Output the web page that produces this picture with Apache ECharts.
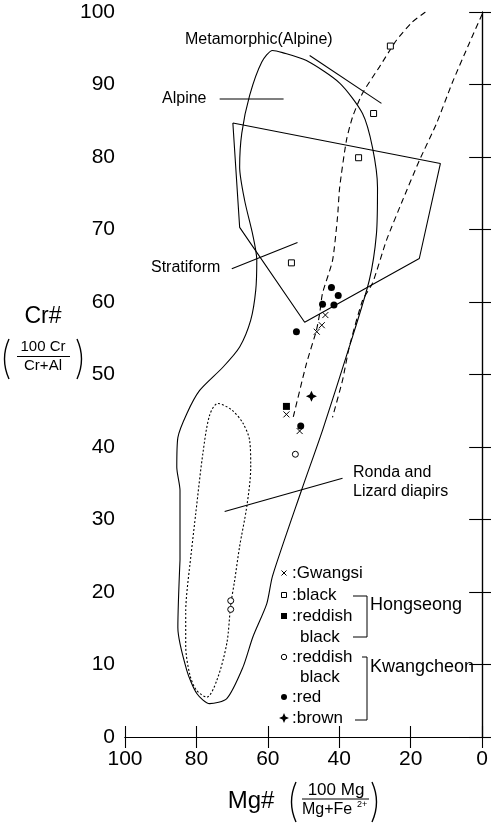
<!DOCTYPE html>
<html>
<head>
<meta charset="utf-8">
<script src="https://cdn.jsdelivr.net/npm/echarts@6/dist/echarts.min.js"></script>
<style>
  html, body { margin: 0; padding: 0; background: #fff; }
  #chart { width: 491px; height: 826px; }
</style>
</head>
<body>
<div id="chart"></div>
<script>
// 刻度
const xTicks = [0, 20, 40, 60, 80, 100];
const yTicks = [0, 10, 20, 30, 40, 50, 60, 70, 80, 90, 100];

// 样品点 [Mg#, Cr#]
const gwangsi = [[43.9, 58.2], [44.9, 56.8], [46.3, 55.9], [54.8, 44.5], [51.1, 42.2]];
const hsBlack = [[25.7, 95.3], [30.4, 86.0], [34.6, 79.9], [53.4, 65.4]];
const hsReddishBlack = [[54.8, 45.6]];
const kcReddishBlack = [[52.3, 39.0], [70.4, 18.8], [70.4, 17.6]];
const kcRed = [[42.2, 62.0], [40.3, 60.9], [44.7, 59.7], [41.5, 59.6], [52.0, 55.9], [50.8, 42.9]];
const kcBrown = [[47.8, 47.0]];

// 区域边界（闭合曲线从侧边起笔，避免顶点处出现折角）
const alpineField = [[84.6, 24.4], [85.2, 15.1], [82.7, 9.2], [79.9, 6.0], [76.3, 4.6], [71.5, 5.3],
  [67.0, 9.6], [64.2, 13.8], [60.3, 18.4], [58.7, 22.2], [50.6, 34.0], [44.7, 42.3], [37.2, 53.8],
  [31.6, 63.0], [29.6, 69.4], [29.3, 75.8], [30.7, 81.3], [33.5, 86.0], [39.9, 90.2], [49.2, 93.3],
  [55.9, 94.4], [58.7, 94.7], [61.7, 93.1], [65.1, 88.5], [67.3, 83.3], [67.9, 78.6], [66.5, 74.0],
  [64.2, 69.2], [63.1, 65.8], [63.4, 61.6], [64.8, 57.5], [67.9, 53.8], [72.6, 51.0], [79.1, 47.8],
  [82.7, 44.6], [85.2, 41.3], [85.5, 37.2], [84.6, 34.0], [84.6, 24.4]];
const rondaField = [[82.1, 22.6], [83.0, 17.4], [83.0, 12.6], [81.8, 8.5], [79.9, 6.4], [77.1, 5.5],
  [74.3, 7.8], [71.5, 12.9], [70.4, 18.2], [69.3, 21.6], [67.9, 26.3], [65.9, 31.8], [64.8, 37.2],
  [65.1, 40.9], [67.0, 43.3], [70.1, 45.1], [74.0, 46.0], [76.3, 44.4], [78.2, 39.1], [80.2, 30.8], [82.1, 22.6]];
const stratiformField = [[69.8, 84.7], [11.7, 79.1], [17.6, 66.0], [49.7, 57.2], [67.9, 70.3], [69.8, 84.7]];
const trendA = [[15.9, 100], [19.6, 98.6], [24.0, 96.1], [28.8, 92.4], [33.5, 88.8], [36.3, 85.5],
  [38.0, 82.3], [39.9, 75.8], [40.5, 71.7], [41.9, 65.7], [44.7, 61.2], [45.5, 58.4], [46.4, 56.1],
  [49.2, 51.5], [53.1, 43.7]];
const trendB = [[0, 99.7], [3.6, 95.7], [8.4, 90.2], [12.8, 84.6], [17.6, 79.5], [22.3, 74.0],
  [26.8, 68.5], [30.7, 62.6], [33.5, 60.2], [37.2, 53.8], [39.1, 49.2], [41.9, 44.1]];

// 引线
const leaderMeta = [[48.3, 94.0], [28.2, 87.4]];
const leaderAlpine = [[73.5, 88.0], [55.6, 88.0]];
const leaderStrat = [[70.1, 64.6], [51.7, 68.2]];
const leaderRonda = [[72.1, 31.1], [39.1, 35.7]];

const FONT = '"Liberation Sans", Arial, sans-serif';
const crossPath = 'path://M0,0L10,10M10,0L0,10';
const starPath = 'path://M5,0L6.6,3.4L10,5L6.6,6.6L5,10L3.4,6.6L0,5L3.4,3.4Z';

function boundary(data, type, smooth) {
  return {
    type: 'line', data: data, symbol: 'none', smooth: smooth, silent: true,
    lineStyle: { color: '#000', width: 1.1, type: type }, z: 2
  };
}
function pts(data, symbol, size, fill, stroke) {
  return {
    type: 'scatter', data: data, symbol: symbol, symbolSize: size, silent: true, z: 5,
    itemStyle: { color: fill, borderColor: '#000', borderWidth: stroke, opacity: 1 }
  };
}
function txt(x, y, s, size, align) {
  return { type: 'text', x: x, y: y, silent: true,
    style: { text: s, font: size + 'px ' + FONT, fill: '#000', textAlign: align || 'left', textVerticalAlign: 'middle' } };
}
function seg(x1, y1, x2, y2, w) {
  return { type: 'line', silent: true, shape: { x1: x1, y1: y1, x2: x2, y2: y2 },
    style: { stroke: '#000', lineWidth: w || 1 } };
}
function paren(x, y1, y2, bulge) {
  return { type: 'bezierCurve', silent: true,
    shape: { x1: x, y1: y1, x2: x, y2: y2, cpx1: x + bulge, cpy1: (y1 + y2) / 2 },
    style: { stroke: '#000', lineWidth: 1.4, fill: null } };
}
function legendSym(x, y, kind) {
  if (kind === 'cross') return { type: 'group', children: [seg(x - 2.5, y - 2.5, x + 2.5, y + 2.5), seg(x + 2.5, y - 2.5, x - 2.5, y + 2.5)] };
  if (kind === 'osq') return { type: 'rect', shape: { x: x - 2.5, y: y - 2.5, width: 5, height: 5 }, style: { fill: '#fff', stroke: '#000', lineWidth: 1 } };
  if (kind === 'fsq') return { type: 'rect', shape: { x: x - 3, y: y - 3, width: 6, height: 6 }, style: { fill: '#000' } };
  if (kind === 'oci') return { type: 'circle', shape: { cx: x, cy: y, r: 2.7 }, style: { fill: '#fff', stroke: '#000', lineWidth: 1 } };
  if (kind === 'fci') return { type: 'circle', shape: { cx: x, cy: y, r: 3 }, style: { fill: '#000' } };
  return { type: 'polygon', shape: { points: [[x, y - 5], [x + 1.5, y - 1.5], [x + 5, y], [x + 1.5, y + 1.5], [x, y + 5], [x - 1.5, y + 1.5], [x - 5, y], [x - 1.5, y - 1.5]] }, style: { fill: '#000' } };
}

const chart = echarts.init(document.getElementById('chart'), null, { renderer: 'canvas' });

const axisCommon = {
  type: 'value', min: 0, max: 100, splitLine: { show: false },
  axisLine: { show: true, lineStyle: { color: '#000', width: 1.2 } },
  axisTick: { show: true, inside: true, length: 11, lineStyle: { color: '#000', width: 1.1 } }
};

const legendRows = [
  ['cross', ':Gwangsi', 573], ['osq', ':black', 595], ['fsq', ':reddish', 616], [null, 'black', 637],
  ['oci', ':reddish', 657], [null, 'black', 677], ['fci', ':red', 697], ['star', ':brown', 718]
];
const legendGraphics = [];
legendRows.forEach(function (r) {
  if (r[0]) legendGraphics.push(legendSym(284, r[2], r[0]));
  legendGraphics.push(txt(r[0] ? 292 : 300, r[2], r[1], 17));
});

chart.setOption({
  animation: false,
  backgroundColor: '#fff',
  grid: { left: 125, right: 8, top: 12, bottom: 89 },
  xAxis: [
    Object.assign({}, axisCommon, {
      inverse: true, position: 'bottom', interval: 20,
      axisLabel: { fontSize: 21, color: '#000', fontFamily: FONT, margin: 12, showMinLabel: true, showMaxLabel: true,
        formatter: function (v) { return xTicks.indexOf(v) >= 0 ? String(v) : ''; } }
    }),
    Object.assign({}, axisCommon, { inverse: true, position: 'top', interval: 20, axisLabel: { show: false } })
  ],
  yAxis: [
    Object.assign({}, axisCommon, {
      position: 'left', interval: 10,
      axisLabel: { fontSize: 21, color: '#000', fontFamily: FONT, margin: 10, showMinLabel: true, showMaxLabel: true,
        formatter: function (v) { return yTicks.indexOf(v) >= 0 ? String(v) : ''; } }
    }),
    Object.assign({}, axisCommon, { position: 'right', interval: 10, axisLabel: { show: false },
      axisTick: { show: true, inside: true, length: 13, lineStyle: { color: '#000', width: 1.1 } } })
  ],
  series: [
    boundary(alpineField, 'solid', 0.25),
    boundary(rondaField, [2, 2], 0.3),
    boundary(stratiformField, 'solid', false),
    boundary(trendA, [6, 4], 0.2),
    boundary(trendB, [6, 4], 0.2),
    boundary(leaderMeta, 'solid', false),
    boundary(leaderAlpine, 'solid', false),
    boundary(leaderStrat, 'solid', false),
    boundary(leaderRonda, 'solid', false),
    pts(gwangsi, crossPath, 6, 'none', 1),
    pts(hsBlack, 'rect', 6, '#fff', 1),
    pts(hsReddishBlack, 'rect', 7, '#000', 0),
    pts(kcReddishBlack, 'circle', 6, '#fff', 1),
    pts(kcRed, 'circle', 7, '#000', 0),
    pts(kcBrown, starPath, 11, '#000', 0)
  ],
  graphic: [
    txt(185, 40, 'Metamorphic(Alpine)', 16),
    txt(162, 99, 'Alpine', 16),
    txt(151, 268, 'Stratiform', 16),
    txt(353, 473, 'Ronda and', 16),
    txt(353, 492, 'Lizard diapirs', 16),
    // Cr# 轴名
    txt(43, 317, 'Cr#', 23, 'center'),
    paren(9, 339, 379, -9),
    paren(77, 339, 379, 9),
    txt(43, 347, '100 Cr', 15, 'center'),
    seg(17, 356.5, 70, 356.5, 1),
    txt(43, 366, 'Cr+Al', 15, 'center'),
    // Mg# 轴名
    txt(251, 801, 'Mg#', 24, 'center'),
    paren(296, 782, 822, -9),
    paren(372, 782, 822, 9),
    txt(336, 790, '100 Mg', 17, 'center'),
    seg(302, 799, 369, 799, 1),
    txt(302, 810, 'Mg+Fe', 16),
    txt(357, 805, '2+', 9),
    // 图例括号
    seg(353, 596, 367, 596), seg(367, 596, 367, 637), seg(353, 637, 367, 637),
    txt(370, 605, 'Hongseong', 18),
    seg(362, 657, 367, 657), seg(367, 657, 367, 720), seg(355, 720, 367, 720),
    txt(370, 667, 'Kwangcheon', 18)
  ].concat(legendGraphics)
});
</script>
</body>
</html>
